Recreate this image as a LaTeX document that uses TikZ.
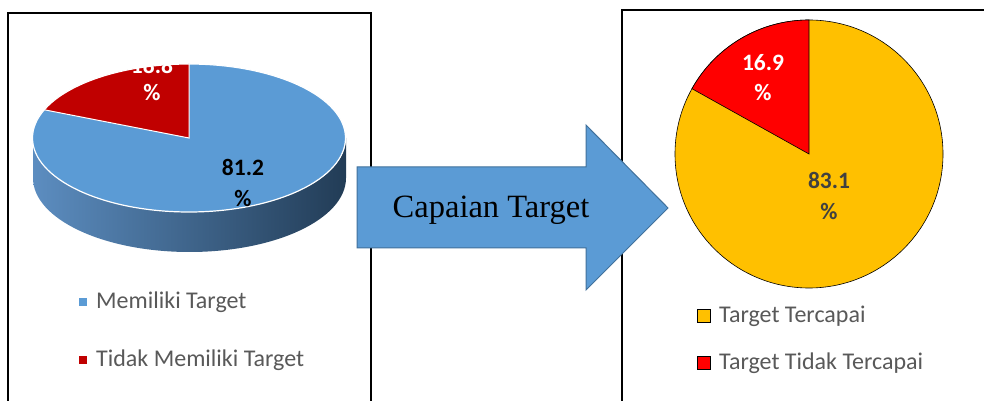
\documentclass[tikz,border=0pt]{standalone}
\usepackage{fontspec}
\usetikzlibrary{calc}
\setmainfont{Carlito}
\newfontfamily\serifcap{Liberation Serif}
\begin{document}
\begin{tikzpicture}[x=1pt,y=1pt,
  frame/.style={draw=black,line width=1.4pt},
  pctlabel/.style={font=\fontsize{23.5}{26}\selectfont\bfseries,align=center,inner sep=0pt},
  legtext/.style={anchor=west,text=legendgray,font=\fontsize{24}{26}\selectfont,inner sep=0pt},
]
\definecolor{pieblue}{HTML}{5B9BD5}
\definecolor{piedarkred}{HTML}{C00000}
\definecolor{pieorange}{HTML}{FFC000}
\definecolor{piered}{HTML}{FF0000}
\definecolor{arrowedge}{HTML}{41719C}
\definecolor{legendgray}{HTML}{595959}
\definecolor{labelgray}{HTML}{404040}
\definecolor{sidelight}{HTML}{5C8DC0}
\definecolor{sidemid}{HTML}{3E6B97}
\definecolor{sidedark}{HTML}{223C56}

\clip (0,0) rectangle (984,401);
\fill[white] (0,0) rectangle (984,401);

% chart frames
\draw[frame] (8,-5) -- (8,388) -- (371,388) -- (371,-5);
\draw[frame] (622,-5) -- (622,391) -- (990,391);

% ---- 3D pie: side wall
\coordinate (lc) at (189,263);
\shade[left color=sidelight,middle color=sidemid,right color=sidedark]
  (33,263) -- (33,223)
  arc[start angle=180,end angle=360,x radius=156.5,y radius=74]
  -- (346,263)
  arc[start angle=0,end angle=-180,x radius=156.5,y radius=74] -- cycle;
% top face
\fill[pieblue] (lc) ellipse[x radius=156.5,y radius=74];
\fill[piedarkred] (lc) -- ++(0,74)
  arc[start angle=90,end angle=157.7,x radius=156.5,y radius=74] -- cycle;
\draw[white,line width=1.2pt] (lc) ellipse[x radius=156.5,y radius=74];
\draw[white,line width=1pt] (189,337) -- (lc)
  -- ($(lc)+(-144.7,28.2)$);
\node[pctlabel,text=white] (lblA) at (152,336) {18.8};
\node[pctlabel,text=white] (lblAp) at (152,308) {\%};
\node[pctlabel,text=black] (lblB) at (243,234) {81.2};
\node[pctlabel,text=black] (lblBp) at (243,203) {\%};

% left legend
\fill[pieblue] (79,95) rectangle (87,103);
\node[legtext] (legA) at (96,99) {Memiliki Target};
\fill[piedarkred] (79,37) rectangle (87,45);
\node[legtext] (legB) at (96,41) {Tidak Memiliki Target};

% ---- flat pie
\coordinate (rc) at (809,247);
\filldraw[fill=pieorange,draw=black,line width=0.6pt] (rc) circle[radius=134];
\filldraw[fill=piered,draw=black,line width=0.6pt] (rc) -- ++(0,134)
  arc[start angle=90,end angle=150.84,radius=134] -- cycle;
\node[pctlabel,text=white] (lblC) at (763,338) {16.9};
\node[pctlabel,text=white] (lblCp) at (763,308) {\%};
\node[pctlabel,text=labelgray] (lblD) at (829,221) {83.1};
\node[pctlabel,text=labelgray] (lblDp) at (829,189) {\%};

% right legend
\filldraw[fill=pieorange,draw=black,line width=0.6pt] (697.5,78.5) rectangle (710.5,91.5);
\node[legtext] (legC) at (719,85) {Target Tercapai};
\filldraw[fill=piered,draw=black,line width=0.6pt] (697.5,31.5) rectangle (710.5,44.5);
\node[legtext] (legD) at (719,38) {Target Tidak Tercapai};

% ---- block arrow
\filldraw[fill=pieblue,draw=arrowedge,line width=1pt]
  (357,153) -- (357,234) -- (586,234) -- (586,276) -- (668,193)
  -- (586,111) -- (586,153) -- cycle;
\node[font=\serifcap\fontsize{32.5}{35}\selectfont,inner sep=0pt] (cap) at (491,191) {Capaian Target};
\end{tikzpicture}
\end{document}
